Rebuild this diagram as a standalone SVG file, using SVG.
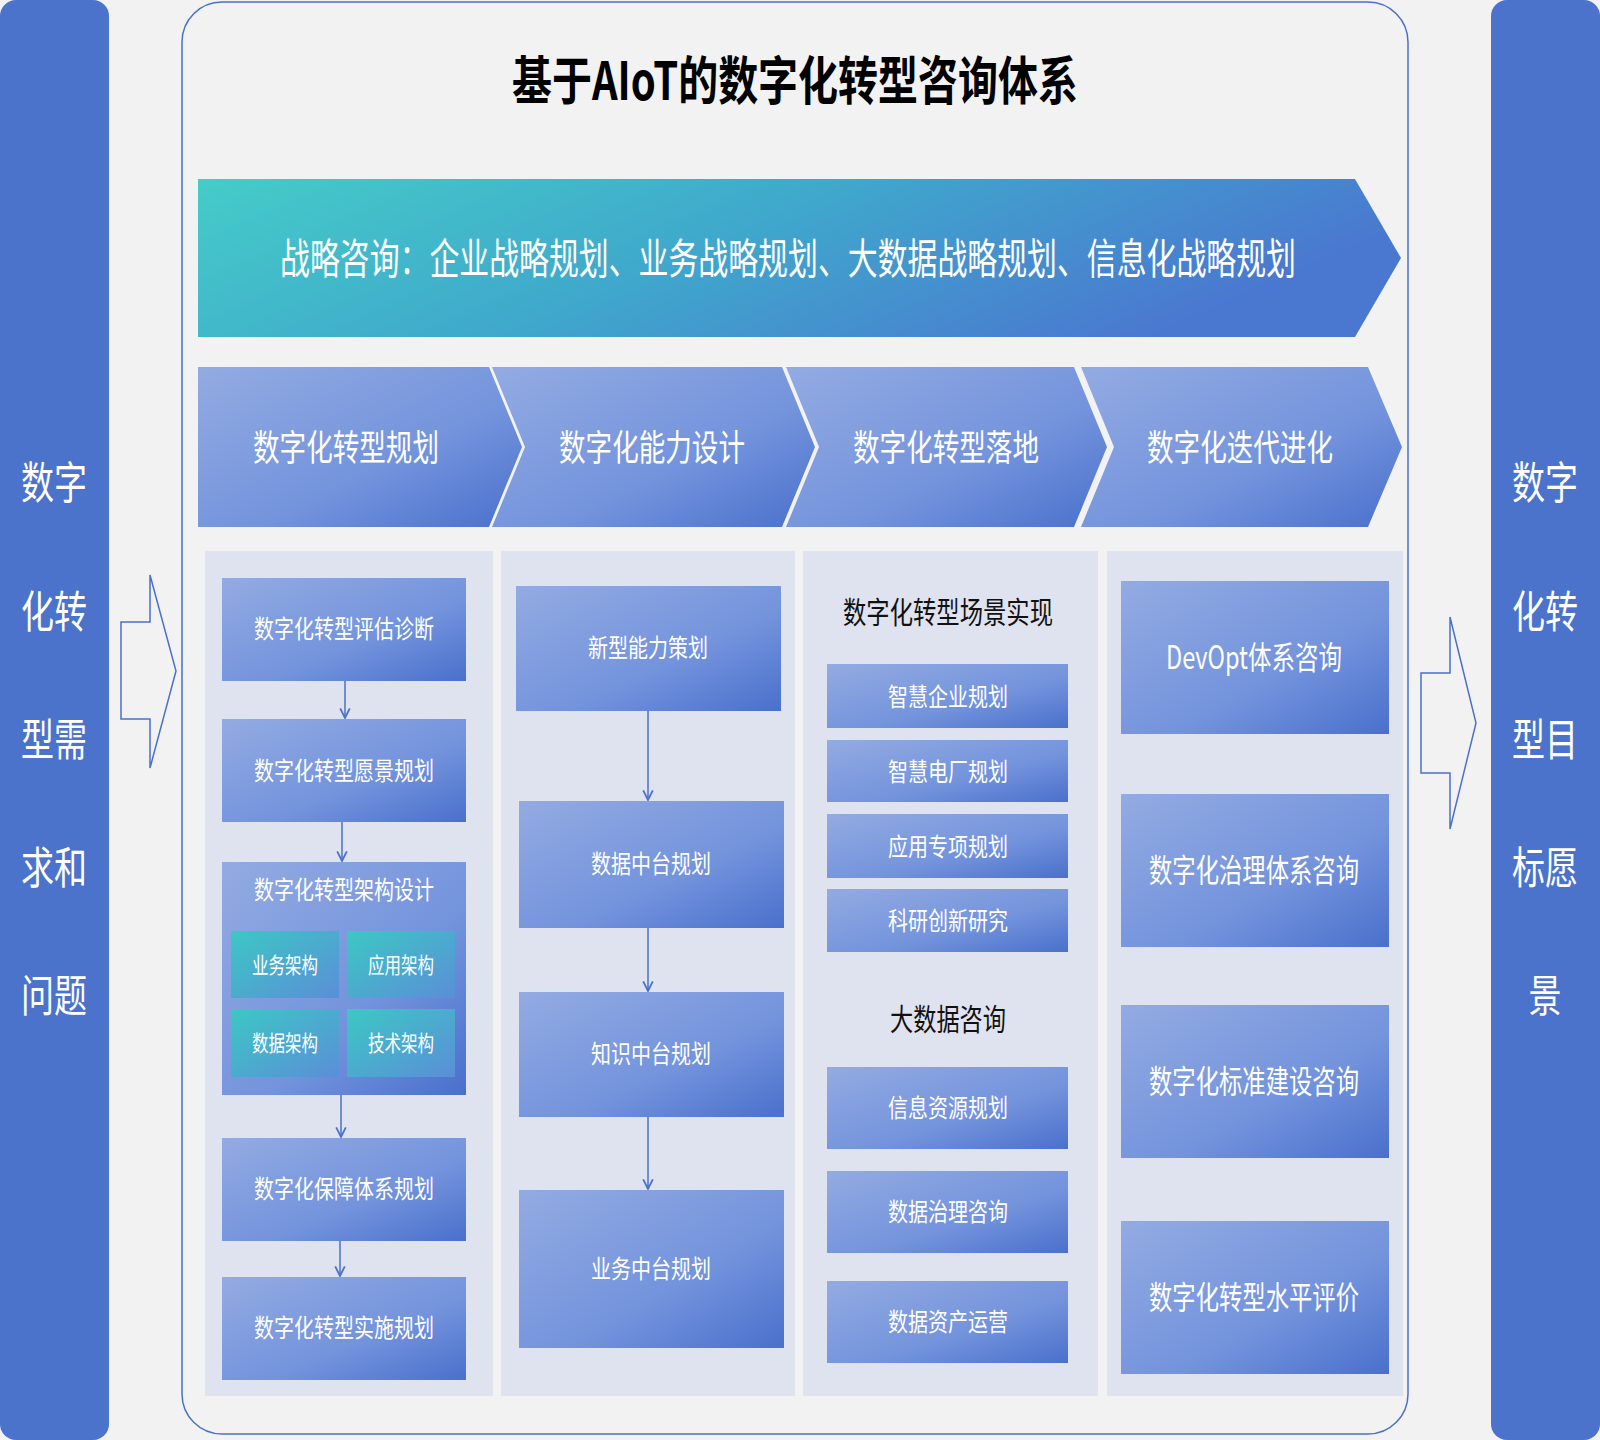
<svg xmlns="http://www.w3.org/2000/svg" width="1600" height="1440" viewBox="0 0 1600 1440">
<defs>
<linearGradient id="gb" x1="0" y1="0" x2="1" y2="1"><stop offset="0" stop-color="#93abe2"/><stop offset="0.6" stop-color="#7393dc"/><stop offset="1" stop-color="#4a70cc"/></linearGradient>
<linearGradient id="gt" x1="0" y1="0" x2="1" y2="1"><stop offset="0" stop-color="#3cc8c4"/><stop offset="1" stop-color="#5b8ed8"/></linearGradient>
<linearGradient id="gs" x1="0" y1="0" x2="1" y2="0.3"><stop offset="0" stop-color="#45ccc8"/><stop offset="0.5" stop-color="#3fa8cc"/><stop offset="1" stop-color="#4a78d0"/></linearGradient>
<marker id="ah" viewBox="0 0 10 10" refX="9" refY="5" markerWidth="8" markerHeight="8" orient="auto"><path d="M1,1 L9,5 L1,9" fill="none" stroke="#4a70cc" stroke-width="1.5"/></marker>
<style>
text{font-family:"Noto Sans CJK SC","Liberation Sans",sans-serif;text-anchor:middle;dominant-baseline:central}
.w{fill:#fff}.b{fill:url(#gb)}.t{fill:url(#gt)}.col{fill:#dfe3ef}
.s{font-size:25px}.m{font-size:36px}.side{font-size:44px;fill:#fff}
.c{stroke:#4a70cc;stroke-width:1.5;fill:none;marker-end:url(#ah)}
</style>
</defs>
<rect width="1600" height="1440" fill="#f2f2f2"/>
<g id="leftbar"><rect x="0" y="0" width="109" height="1440" rx="16" fill="#4b73cc"/>
<text class="side" x="54" y="480" textLength="66" lengthAdjust="spacingAndGlyphs">数字</text><text class="side" x="54" y="609" textLength="66" lengthAdjust="spacingAndGlyphs">化转</text><text class="side" x="54" y="737" textLength="66" lengthAdjust="spacingAndGlyphs">型需</text><text class="side" x="54" y="865" textLength="66" lengthAdjust="spacingAndGlyphs">求和</text><text class="side" x="54" y="993" textLength="66" lengthAdjust="spacingAndGlyphs">问题</text></g>
<g id="rightbar"><rect x="1491" y="0" width="109" height="1440" rx="16" fill="#4b73cc"/>
<text class="side" x="1545" y="480" textLength="66" lengthAdjust="spacingAndGlyphs">数字</text><text class="side" x="1545" y="609" textLength="66" lengthAdjust="spacingAndGlyphs">化转</text><text class="side" x="1545" y="737" textLength="66" lengthAdjust="spacingAndGlyphs">型目</text><text class="side" x="1545" y="865" textLength="66" lengthAdjust="spacingAndGlyphs">标愿</text><text class="side" x="1545" y="993" textLength="33" lengthAdjust="spacingAndGlyphs">景</text></g>
<path d="M121,622 H150 V575 L176,671 L150,768 V719 H121 Z" fill="none" stroke="#4a70cc" stroke-width="1.5"/>
<path d="M1421,673 H1450 V617 L1476,723 L1450,829 V773 H1421 Z" fill="none" stroke="#4a70cc" stroke-width="1.5"/>
<rect x="182" y="2" width="1226" height="1432" rx="40" fill="#f2f2f2" stroke="#4a70cc" stroke-width="1.5"/>
<text x="795" y="77" style="font-size:52px;font-weight:bold;fill:#000" textLength="566" lengthAdjust="spacingAndGlyphs">基于AIoT的数字化转型咨询体系</text>
<g id="strategy"><path d="M198,179 H1355 L1401,258 L1355,337 H198 Z" fill="url(#gs)"/>
<text class="w" x="788" y="255" style="font-size:42px" textLength="1016" lengthAdjust="spacingAndGlyphs">战略咨询：企业战略规划、业务战略规划、大数据战略规划、信息化战略规划</text></g>
<g id="phases">
<path d="M198,367 H489 L522,447 L489,527 H198 Z" class="b"/><text class="w m" x="346" y="445" textLength="186" lengthAdjust="spacingAndGlyphs">数字化转型规划</text>
<path d="M492,367 H782 L815,447 L782,527 H492 L525,447 Z" class="b"/><text class="w m" x="652" y="445" textLength="186" lengthAdjust="spacingAndGlyphs">数字化能力设计</text>
<path d="M786,367 H1074 L1107,447 L1074,527 H786 L819,447 Z" class="b"/><text class="w m" x="946" y="445" textLength="186" lengthAdjust="spacingAndGlyphs">数字化转型落地</text>
<path d="M1081,367 H1368 L1402,447 L1368,527 H1081 L1114,447 Z" class="b"/><text class="w m" x="1240" y="445" textLength="186" lengthAdjust="spacingAndGlyphs">数字化迭代进化</text>
</g>
<rect class="col" x="205" y="551" width="288" height="845"/>
<rect class="col" x="501" y="551" width="294" height="845"/>
<rect class="col" x="803" y="551" width="295" height="845"/>
<rect class="col" x="1107" y="551" width="296" height="845"/>
<g id="c1">
<g id="n11"><rect class="b" x="222" y="578" width="244" height="103"/><text class="w s" x="344" y="627" textLength="180" lengthAdjust="spacingAndGlyphs">数字化转型评估诊断</text></g>
<g id="n12"><rect class="b" x="222" y="719" width="244" height="103"/><text class="w s" x="344" y="769" textLength="180" lengthAdjust="spacingAndGlyphs">数字化转型愿景规划</text></g>
<g id="n13"><rect class="b" x="222" y="862" width="244" height="233"/><text class="w s" x="344" y="888" textLength="180" lengthAdjust="spacingAndGlyphs">数字化转型架构设计</text>
<rect class="t" x="231" y="931" width="108" height="67"/><text class="w" style="font-size:22px" x="285" y="963" textLength="66" lengthAdjust="spacingAndGlyphs">业务架构</text>
<rect class="t" x="347" y="931" width="108" height="67"/><text class="w" style="font-size:22px" x="401" y="963" textLength="66" lengthAdjust="spacingAndGlyphs">应用架构</text>
<rect class="t" x="231" y="1009" width="108" height="68"/><text class="w" style="font-size:22px" x="285" y="1041" textLength="66" lengthAdjust="spacingAndGlyphs">数据架构</text>
<rect class="t" x="347" y="1009" width="108" height="68"/><text class="w" style="font-size:22px" x="401" y="1041" textLength="66" lengthAdjust="spacingAndGlyphs">技术架构</text></g>
<g id="n14"><rect class="b" x="222" y="1138" width="244" height="103"/><text class="w s" x="344" y="1187" textLength="180" lengthAdjust="spacingAndGlyphs">数字化保障体系规划</text></g>
<g id="n15"><rect class="b" x="222" y="1277" width="244" height="103"/><text class="w s" x="344" y="1326" textLength="180" lengthAdjust="spacingAndGlyphs">数字化转型实施规划</text></g>
</g>
<g id="c2">
<g id="n21"><rect class="b" x="516" y="586" width="265" height="125"/><text class="w s" x="648" y="646" textLength="120" lengthAdjust="spacingAndGlyphs">新型能力策划</text></g>
<g id="n22"><rect class="b" x="519" y="801" width="265" height="127"/><text class="w s" x="651" y="862" textLength="120" lengthAdjust="spacingAndGlyphs">数据中台规划</text></g>
<g id="n23"><rect class="b" x="519" y="992" width="265" height="125"/><text class="w s" x="651" y="1052" textLength="120" lengthAdjust="spacingAndGlyphs">知识中台规划</text></g>
<g id="n24"><rect class="b" x="519" y="1190" width="265" height="158"/><text class="w s" x="651" y="1267" textLength="120" lengthAdjust="spacingAndGlyphs">业务中台规划</text></g>
</g>
<g id="c3">
<text x="948" y="610" style="font-size:30px;fill:#111" textLength="210" lengthAdjust="spacingAndGlyphs">数字化转型场景实现</text>
<g id="n31"><rect class="b" x="827" y="664" width="241" height="64"/><text class="w s" x="948" y="695" textLength="120" lengthAdjust="spacingAndGlyphs">智慧企业规划</text></g>
<g id="n32"><rect class="b" x="827" y="740" width="241" height="62"/><text class="w s" x="948" y="770" textLength="120" lengthAdjust="spacingAndGlyphs">智慧电厂规划</text></g>
<g id="n33"><rect class="b" x="827" y="814" width="241" height="64"/><text class="w s" x="948" y="845" textLength="120" lengthAdjust="spacingAndGlyphs">应用专项规划</text></g>
<g id="n34"><rect class="b" x="827" y="889" width="241" height="63"/><text class="w s" x="948" y="919" textLength="120" lengthAdjust="spacingAndGlyphs">科研创新研究</text></g>
<text x="948" y="1017" style="font-size:30px;fill:#111" textLength="116" lengthAdjust="spacingAndGlyphs">大数据咨询</text>
<g id="n35"><rect class="b" x="827" y="1067" width="241" height="82"/><text class="w s" x="948" y="1106" textLength="120" lengthAdjust="spacingAndGlyphs">信息资源规划</text></g>
<g id="n36"><rect class="b" x="827" y="1171" width="241" height="82"/><text class="w s" x="948" y="1210" textLength="120" lengthAdjust="spacingAndGlyphs">数据治理咨询</text></g>
<g id="n37"><rect class="b" x="827" y="1281" width="241" height="82"/><text class="w s" x="948" y="1320" textLength="120" lengthAdjust="spacingAndGlyphs">数据资产运营</text></g>
</g>
<g id="c4">
<g id="n41"><rect class="b" x="1121" y="581" width="268" height="153"/><text class="w" style="font-size:32px" x="1254" y="655" textLength="176" lengthAdjust="spacingAndGlyphs">DevOpt体系咨询</text></g>
<g id="n42"><rect class="b" x="1121" y="794" width="268" height="153"/><text class="w" style="font-size:32px" x="1254" y="868" textLength="210" lengthAdjust="spacingAndGlyphs">数字化治理体系咨询</text></g>
<g id="n43"><rect class="b" x="1121" y="1005" width="268" height="153"/><text class="w" style="font-size:32px" x="1254" y="1079" textLength="210" lengthAdjust="spacingAndGlyphs">数字化标准建设咨询</text></g>
<g id="n44"><rect class="b" x="1121" y="1221" width="268" height="153"/><text class="w" style="font-size:32px" x="1254" y="1295" textLength="210" lengthAdjust="spacingAndGlyphs">数字化转型水平评价</text></g>
</g>
<g id="connectors">
<path class="c" d="M345,681 V718"/>
<path class="c" d="M342,822 V861"/>
<path class="c" d="M341,1095 V1137"/>
<path class="c" d="M340,1241 V1276"/>
<path class="c" d="M648,711 V800"/>
<path class="c" d="M648,928 V991"/>
<path class="c" d="M648,1117 V1189"/>
</g>
</svg>
